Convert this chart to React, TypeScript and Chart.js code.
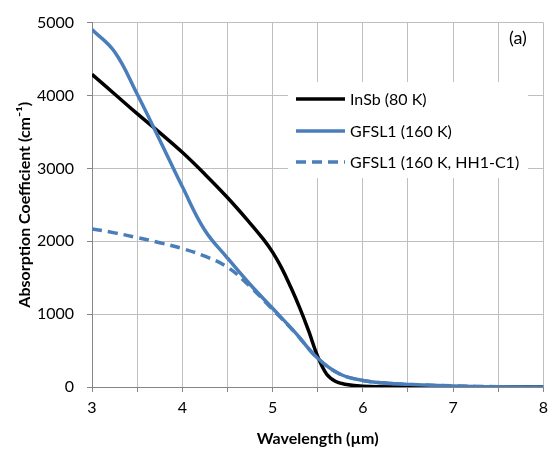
import React, { useEffect, useRef } from 'react';
import { Chart, registerables } from 'chart.js';

Chart.register(...registerables);

// Wavelength (µm) and absorption coefficient (cm^-1)
const insbX = [3, 3.25, 3.5, 3.75, 4, 4.25, 4.5, 4.75, 4.9, 5, 5.1, 5.2, 5.3, 5.4, 5.5, 5.6, 5.7, 5.8, 6, 6.5, 7, 7.5, 8];
const insbY = [4290, 4020, 3750, 3490, 3220, 2920, 2600, 2250, 2025, 1850, 1635, 1375, 1090, 770, 420, 175, 75, 38, 10, 0, 0, 0, 0];

const gfslX = [3, 3.25, 3.5, 3.75, 4, 4.25, 4.5, 4.75, 5, 5.25, 5.5, 5.75, 6, 6.25, 6.5, 7, 7.5, 8];
const gfslY = [4905, 4600, 4020, 3390, 2750, 2150, 1770, 1410, 1080, 750, 395, 175, 90, 54, 36, 15, 4, 0];

const hhX = [3, 3.25, 3.5, 3.75, 4, 4.25, 4.5, 4.75, 5, 5.25, 5.5, 5.75, 6, 6.25, 6.5, 7, 7.5, 8];
const hhY = [2170, 2115, 2050, 1980, 1900, 1795, 1645, 1380, 1065, 745, 395, 175, 90, 54, 36, 15, 4, 0];

const seriesLabels = ['InSb (80 K)', 'GFSL1 (160 K)', 'GFSL1 (160 K, HH1-C1)'];
const xTitle = 'Wavelength (µm)';
const yTitle = 'Absorption Coefficient (cm⁻¹)';
const panelLabel = '(a)';
const xMin = 3;
const xMax = 8;
const yMin = 0;
const yMax = 5000;

const FONT = 'Lato, "Open Sans", "DejaVu Sans", sans-serif';
const BLUE = '#4A7EBB';

const toPoints = (xs: number[], ys: number[]) => xs.map((x, i) => ({ x, y: ys[i] }));

export default function App() {
  const ref = useRef<HTMLCanvasElement>(null);

  useEffect(() => {
    if (!ref.current) return;

    const boxLegend = {
      id: 'boxLegend',
      afterDatasetsDraw(chart: any) {
        const ctx = chart.ctx as CanvasRenderingContext2D;
        ctx.save();
        ctx.fillStyle = '#ffffff';
        ctx.fillRect(288, 82, 240, 96);
        const rows = [99, 131, 162];
        chart.data.datasets.forEach((ds: any, i: number) => {
          const y = rows[i];
          ctx.beginPath();
          ctx.strokeStyle = ds.borderColor;
          ctx.lineWidth = ds.borderWidth;
          ctx.setLineDash(ds.borderDash || []);
          ctx.moveTo(296, y);
          ctx.lineTo(345, y);
          ctx.stroke();
          ctx.setLineDash([]);
          ctx.fillStyle = '#000';
          ctx.font = `16px ${FONT}`;
          ctx.textBaseline = 'middle';
          ctx.textAlign = 'left';
          ctx.fillText(ds.label, 350, y + 1);
        });
        ctx.font = `18px ${FONT}`;
        ctx.fillStyle = '#000';
        ctx.textBaseline = 'middle';
        ctx.fillText(panelLabel, 509, 38);
        ctx.restore();
      },
    };

    const common = { pointRadius: 0, tension: 0.4, fill: false, borderWidth: 3.5 };

    const chart = new Chart(ref.current, {
      type: 'line',
      data: {
        datasets: [
          { ...common, label: seriesLabels[0], data: toPoints(insbX, insbY), borderColor: '#000000', order: 1 },
          { ...common, label: seriesLabels[1], data: toPoints(gfslX, gfslY), borderColor: BLUE, order: 0 },
          { ...common, label: seriesLabels[2], data: toPoints(hhX, hhY), borderColor: BLUE, borderDash: [10, 6], order: 2 },
        ],
      },
      options: {
        animation: false,
        responsive: false,
        layout: { padding: { top: 14, right: 4, left: 0, bottom: 0 } },
        plugins: { legend: { display: false }, tooltip: { enabled: false } },
        scales: {
          x: {
            type: 'linear',
            min: xMin,
            max: xMax,
            ticks: {
              stepSize: 0.5,
              autoSkip: false,
              maxRotation: 0,
              padding: 6,
              color: '#000',
              font: { family: FONT, size: 16 },
              callback: (v: any) => (Number.isInteger(Number(v)) ? String(v) : ''),
            },
            grid: { color: '#BFBFBF', tickColor: '#868686', tickLength: 5, lineWidth: 1 },
            border: { color: '#868686', width: 1 },
            title: {
              display: true,
              text: xTitle,
              color: '#000',
              font: { family: FONT, size: 16, weight: 'bold' },
              padding: { top: 0, bottom: 1 },
            },
            afterFit: (s: any) => {
              s.height = 62;
            },
          },
          y: {
            type: 'linear',
            min: yMin,
            max: yMax,
            ticks: {
              stepSize: 1000,
              padding: 13,
              color: '#000',
              font: { family: FONT, size: 16 },
              callback: (v: any) => String(v),
            },
            grid: { color: '#BFBFBF', tickColor: '#868686', tickLength: 5, lineWidth: 1 },
            border: { color: '#868686', width: 1 },
            title: {
              display: true,
              text: yTitle,
              color: '#000',
              font: { family: FONT, size: 16, weight: 'bold' },
              padding: { top: 15, bottom: 0 },
            },
            afterFit: (s: any) => {
              s.width = 92;
            },
          },
        },
      },
      plugins: [boxLegend],
    } as any);

    return () => chart.destroy();
  }, []);

  return (
    <div style={{ position: 'absolute', left: 0, top: 0, width: 554, height: 449, background: '#fff' }}>
      <canvas ref={ref} width={554} height={449} />
    </div>
  );
}
